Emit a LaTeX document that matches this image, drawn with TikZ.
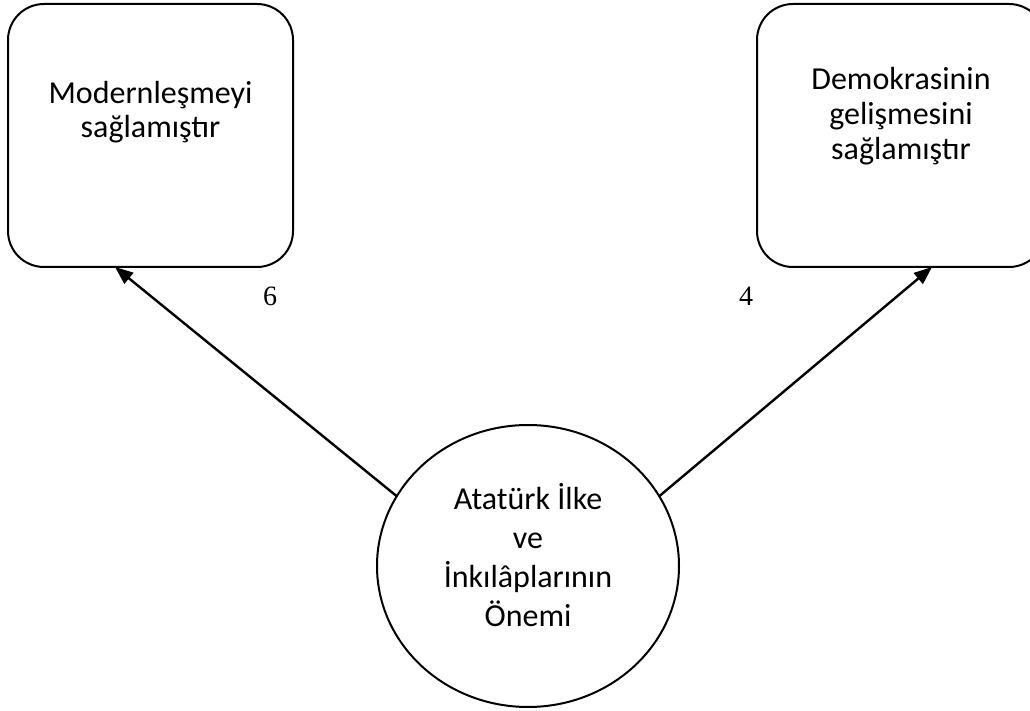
\documentclass[tikz,border=0pt]{standalone}
\usepackage{fontspec}
\setmainfont{Carlito}
\newfontfamily\numfont{Liberation Serif}
\usetikzlibrary{arrows.meta,shapes.geometric}

\begin{document}
\begin{tikzpicture}[x=0.5pt, y=-0.5pt,
    box/.style={draw, line width=1pt, rounded corners=18pt, inner sep=0pt, outer sep=0pt},
    oval/.style={draw, ellipse, line width=1pt, inner sep=0pt, outer sep=0pt,
        minimum width=151pt, minimum height=141pt},
    num/.style={font=\numfont\fontsize{14}{16}\selectfont},
    arr/.style={line width=1.2pt, -{Triangle[length=9pt,width=7pt]}}]
    \useasboundingbox (0,0) rectangle (1030,711);
    % the two boxes on top
    \node[box] (modern) at (150.5,135.5)
        {\parbox[c][131.5pt][t]{142.5pt}{\centering\fontsize{16}{17}\selectfont
        \rule{0pt}{50pt}Modernleşmeyi\\sağlamıştır}};
    \node[box] (demo) at (901,135.5)
        {\parbox[c][131.5pt][t]{144pt}{\centering\fontsize{16}{17.5}\selectfont
        \rule{0pt}{43pt}Demokrasinin\\gelişmesini\\sağlamıştır}};
    % the circle below
    \node[oval] (atat) at (528,566)
        {\parbox[c][96pt][t]{100pt}{\centering\fontsize{16}{19.5}\selectfont
        \rule{0pt}{20pt}Atatürk İlke\\ve\\İnkılâplarının\\Önemi}};
    \node[num] (six) at (270,296) {6};
    \node[num] (four) at (746,296) {4};
    \draw[arr] (atat.152) -- ([xshift=-17.75pt]modern.south);
    \draw[arr] (atat.28) -- ([xshift=15.5pt]demo.south);
\end{tikzpicture}
\end{document}
